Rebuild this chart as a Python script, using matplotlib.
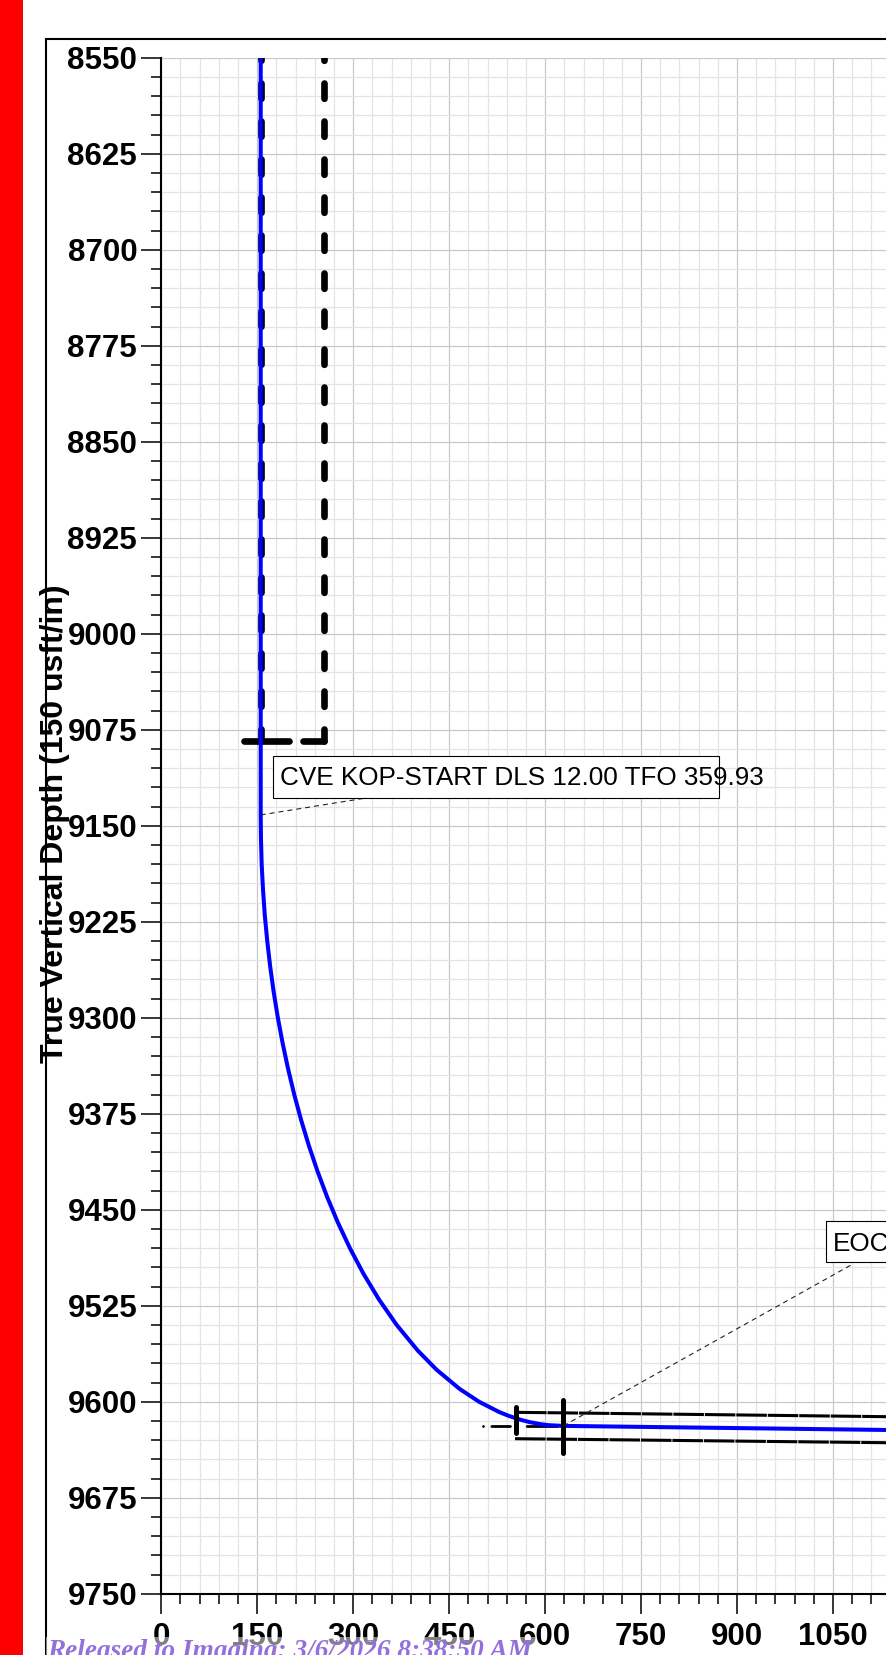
import numpy as np
import matplotlib.pyplot as plt
from matplotlib.patches import Rectangle
from matplotlib.lines import Line2D
from matplotlib.ticker import MultipleLocator

plt.rcParams['font.family'] = ['Liberation Sans', 'DejaVu Sans']

# well path: vertical section (usft) vs true vertical depth (usft)
vs = [155.4, 155.4, 155.8, 156.9, 159.0, 161.8, 165.6, 170.2, 175.7, 182.2,
      189.7, 198.2, 207.8, 218.6, 230.7, 244.2, 259.2, 276.0, 294.8, 316.0,
      340.1, 367.9, 400.8, 430.3, 466.3, 496.6, 527.9, 542.7, 560.8, 576.3,
      592.2, 604.7, 628.4, 1200.0]
tvd = [8540, 9141.6, 9160, 9180, 9200, 9220, 9240, 9260, 9280, 9300,
       9320, 9340, 9360, 9380, 9400, 9420, 9440, 9460, 9480, 9500,
       9520, 9540, 9560, 9575, 9590, 9600, 9608, 9611, 9614, 9616,
       9617.5, 9618.3, 9618.9, 9622.5]

# dashed hard lines (top part)
hard_vs = [155.4, 254.0]
hard_top = 8540
hard_bottom = 9083.6
hard_h_segments = [(129.0, 199.0), (222.0, 254.0)]

# target window lines near landing
upper_vs = [554.5, 1200.0]
upper_tvd = [9608.3, 9612.1]
lower_vs = [553.0, 1200.0]
lower_tvd = [9628.9, 9632.4]
bar1_vs = [554.0, 554.0]
bar1_tvd = [9604.1, 9624.4]
bar2_vs = [628.4, 628.4]
bar2_tvd = [9598.7, 9639.8]
short_vs = [503.0, 628.4]
short_tvd = [9618.9, 9618.9]

# annotations
kop_text = 'CVE KOP-START DLS 12.00 TFO 359.93'
kop_point = (155.4, 9141.6)
kop_anchor = (323.3, 9128.1)
kop_box = (174.9, 9095.3, 871.3, 9128.1)
kop_xy = (185.6, 9118.2)
eoc_text = 'EOC'
eoc_point = (628.4, 9618.9)
eoc_anchor = (1079.3, 9492.9)
eoc_box = (1039.0, 9458.6, 1400.0, 9491.1)
eoc_xy = (1049.6, 9482.3)

xticks = [0, 150, 300, 450, 600, 750, 900, 1050, 1200]
yticks = [8550, 8625, 8700, 8775, 8850, 8925, 9000, 9075, 9150, 9225,
          9300, 9375, 9450, 9525, 9600, 9675, 9750]

W, H = 887, 1655
fig = plt.figure(figsize=(W / 100, H / 100), dpi=100)

px_per_x = 0.6397
ax = fig.add_axes([161.3 / W, 1 - 1593.7 / H, 1200 * px_per_x / W, (1593.7 - 57.7) / H])
ax.set_xlim(0, 1200)
ax.set_ylim(9750, 8550)

ax.set_xticks(xticks, [str(t) for t in xticks], fontweight='bold')
ax.set_yticks(yticks, [str(t) for t in yticks], fontweight='bold')
ax.xaxis.set_minor_locator(MultipleLocator(30))
ax.yaxis.set_minor_locator(MultipleLocator(15))
ax.tick_params(which='major', length=14.4, width=1.1, labelsize=22.5, color='black')
ax.tick_params(axis='x', which='major', pad=6)
ax.tick_params(axis='y', which='major', pad=3)
ax.tick_params(which='minor', length=7.2, width=1.1)
ax.grid(which='major', color='#c8c8c8', lw=0.9)
ax.grid(which='minor', color='#e4e4e4', lw=0.9)
ax.set_axisbelow(True)
for s in ['top', 'right']:
    ax.spines[s].set_visible(False)
for s in ['left', 'bottom']:
    ax.spines[s].set_linewidth(1.5)

# hard lines
for x in hard_vs:
    ax.plot([x, x], [hard_top, hard_bottom], color='black', lw=4.8,
            linestyle=(0, (2.3, 3.4)), dash_capstyle='round', zorder=2)
for x0, x1 in hard_h_segments:
    ax.plot([x0, x1], [hard_bottom, hard_bottom], color='black', lw=4.8,
            solid_capstyle='round', zorder=2)

# target lines
ax.plot(upper_vs, upper_tvd, color='black', lw=2.2, linestyle=(0, (10, 0.3)), zorder=2)
ax.plot(lower_vs, lower_tvd, color='black', lw=2.2, linestyle=(0, (10, 0.3)), zorder=2)
ax.plot(short_vs, short_tvd, color='black', lw=2.0, linestyle=(0, (0.01, 3, 6.7, 6, 11, 50)),
        dash_capstyle='round', zorder=2)
ax.plot(bar1_vs, bar1_tvd, color='black', lw=3.6, solid_capstyle='round', zorder=4)
ax.plot(bar2_vs, bar2_tvd, color='black', lw=3.6, solid_capstyle='round', zorder=4)

# well path
ax.plot(vs, tvd, color='#0000ff', lw=2.9, zorder=3)

# annotations
for point, anchor in [(kop_point, kop_anchor), (eoc_point, eoc_anchor)]:
    ax.plot([point[0], anchor[0]], [point[1], anchor[1]], color='#222222', lw=0.8,
            linestyle=(0, (4.5, 3.6)), zorder=4)
for (x0, y0, x1, y1) in [kop_box, eoc_box]:
    ax.add_patch(Rectangle((x0, y0), x1 - x0, y1 - y0, facecolor='white',
                           edgecolor='black', lw=0.8, zorder=5))
ax.text(kop_xy[0], kop_xy[1], kop_text, fontsize=18.8, va='baseline', ha='left', zorder=6)
ax.text(eoc_xy[0], eoc_xy[1], eoc_text, fontsize=18.8, va='baseline', ha='left', zorder=6)

# page decorations
fig.patches.append(Rectangle((0, 0), 23 / W, 1, transform=fig.transFigure,
                             facecolor='#ff0000', edgecolor='none', zorder=1))
fig.add_artist(Line2D([45.7 / W, 45.7 / W], [-0.01, 1 - 39 / H], transform=fig.transFigure,
                      color='black', lw=1.5))
fig.add_artist(Line2D([45.7 / W, 1.01], [1 - 39 / H, 1 - 39 / H], transform=fig.transFigure,
                      color='black', lw=1.5))

fig.text(55.5 / W, 1 - 823.7 / H, 'True Vertical Depth (150 usft/in)', rotation=90,
         ha='center', va='center', fontsize=23, fontweight='bold')

fig.patches.append(Rectangle((46 / W, 0), (535 - 46) / W, 18 / H, transform=fig.transFigure,
                             facecolor='white', alpha=0.5, edgecolor='none', zorder=2))
fig.text(47 / W, 1 - 1658 / H, 'Released to Imaging: 3/6/2026 8:38:50 AM',
         family=['Liberation Serif', 'DejaVu Serif'], style='italic', fontweight='bold',
         fontsize=19.6, color='#9370db', va='baseline', ha='left')

fig.savefig('out.png', dpi=100)
